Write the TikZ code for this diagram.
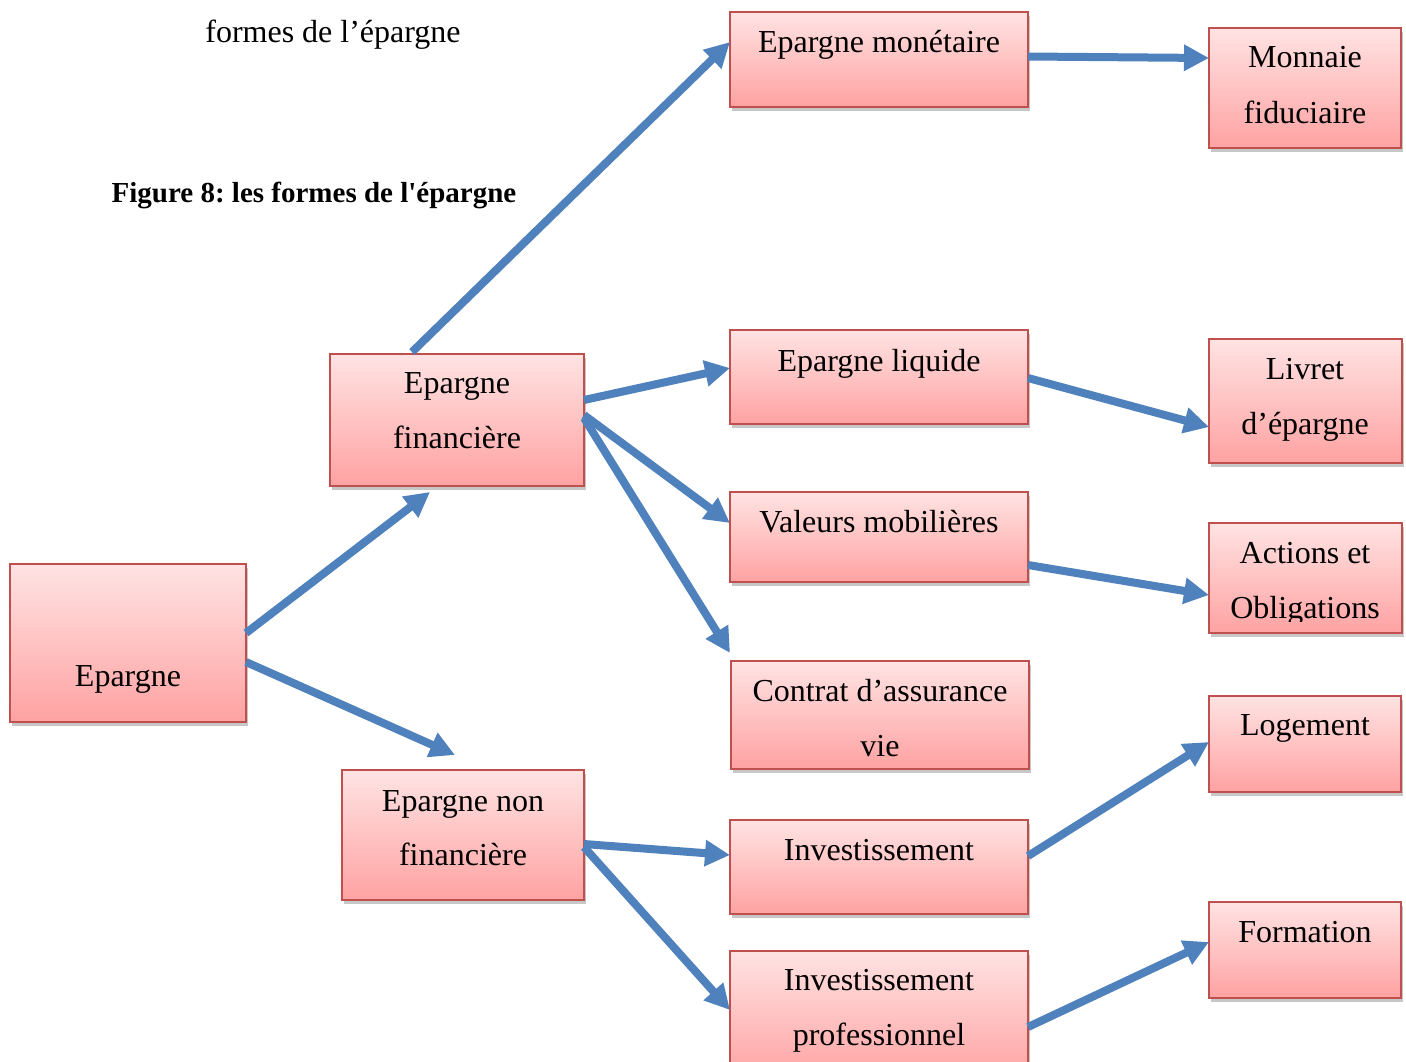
\documentclass[tikz,border=0pt]{standalone}
\usepackage{fontspec}
\setmainfont{Liberation Serif}
\usetikzlibrary{arrows.meta,calc}
\definecolor{boxtop}{HTML}{FFE3E3}
\definecolor{boxbot}{HTML}{FFA2A2}
\definecolor{boxline}{HTML}{C0504D}
\definecolor{arrblue}{HTML}{4F81BD}
\newcommand\bx[5]{%
  \fill[black,opacity=0.22] ({#2-#4/2+2},{#3-#5/2+4}) rectangle ++(#4,#5);
  \node[box, minimum width=#4*0.5pt, minimum height=#5*0.5pt] (#1) at (#2,#3) {};}
\frenchspacing
\begin{document}
\begin{tikzpicture}[x=0.5pt,y=-0.5pt,
  box/.style={rectangle, draw=boxline, line width=1pt, top color=boxtop, bottom color=boxbot, inner sep=0pt, outer sep=0pt},
  txt/.style={font=\fontsize{16}{20}\selectfont, anchor=base, inner sep=0pt},
  captxt/.style={font=\fontsize{14.5}{18}\selectfont\bfseries, anchor=base, inner sep=0pt},
  arr/.style={draw=arrblue, line width=4pt, -{Triangle[length=12.5pt,width=12.5pt]}}]
\useasboundingbox (0,0) rectangle (1406,1061);
\clip (0,0) rectangle (1406,1061);
\fill[white] (0,0) rectangle (1406,1061);

% titles
\node[txt] (title) at (333,42) {formes de l’épargne};
\node[captxt] (caption) at (314,202) {Figure 8: les formes de l\textquotesingle épargne};

% boxes
\bx{ep}{128}{643}{236}{158}
\bx{ef}{457}{420}{254}{132}
\bx{enf}{463}{835}{242}{130}
\bx{em}{879}{59.5}{298}{95}
\bx{el}{879}{377}{298}{94}
\bx{vm}{879}{537}{298}{90}
\bx{ca}{880}{715}{298}{108}
\bx{inv}{879}{867}{298}{94}
\bx{ip}{879}{1015.5}{298}{129}
\bx{mf}{1305}{88}{192}{120}
\bx{le}{1305.5}{401}{193}{124}
\bx{ao}{1305.5}{578}{193}{110}
\bx{lo}{1305}{744}{192}{96}
\bx{fo}{1305}{950}{192}{96}

% texts
\node[txt] (ep-t) at (128,686) {Epargne};
\node[txt] (ef-t1) at (457,393) {Epargne};
\node[txt] (ef-t2) at (457,448) {financière};
\node[txt] (enf-t1) at (463,811) {Epargne non};
\node[txt] (enf-t2) at (463,865) {financière};
\node[txt] (em-t) at (879,52) {Epargne monétaire};
\node[txt] (el-t) at (879,371) {Epargne liquide};
\node[txt] (vm-t) at (879,532) {Valeurs mobilières};
\node[txt] (ca-t1) at (880,701) {Contrat d’assurance};
\node[txt] (ca-t2) at (880,756) {vie};
\node[txt] (inv-t) at (879,860) {Investissement};
\node[txt] (ip-t1) at (879,990) {Investissement};
\node[txt] (ip-t2) at (879,1045) {professionnel};
\node[txt] (mf-t1) at (1305,67) {Monnaie};
\node[txt] (mf-t2) at (1305,123) {fiduciaire};
\node[txt] (le-t1) at (1305,379) {Livret};
\node[txt] (le-t2) at (1305,434) {d’épargne};
\node[txt] (ao-t1) at (1305,563) {Actions et};
\begin{scope}
\clip (1209,523) rectangle (1402,621);
\node[txt] (ao-t2) at (1305,618) {Obligations};
\end{scope}
\node[txt] (lo-t) at (1305,735) {Logement};
\node[txt] (fo-t) at (1305,942) {Formation};

% arrows
\draw[arr] ($(ep.east)+(0,-10)$) -- ($(ef.south)+(-27,6)$);
\draw[arr] ($(ep.east)+(0,19)$) -- ($(enf.north)+(-8,-15)$);
\draw[arr] ($(ef.north)+(-45,-2)$) -- ($(em.west)+(0,-17.5)$);
\draw[arr] ($(ef.east)+(0,-20)$) -- ($(el.west)+(0,-9)$);
\draw[arr] ($(ef.east)+(0,-5)$) -- ($(vm.west)+(0,-14)$);
\draw[arr] ($(ef.east)+(0,-2)$) -- ($(ca.west)+(-1,-62)$);
\draw[arr] ($(enf.east)+(0,9)$) -- ($(inv.west)+(0,-12)$);
\draw[arr] ($(enf.east)+(0,12)$) -- ($(ip.north west)+(0,59)$);
\draw[arr] ($(em.east)+(0,-3)$) -- ($(mf.west)+(0,-30)$);
\draw[arr] ($(el.east)+(0,1)$) -- ($(le.west)+(0,26)$);
\draw[arr] ($(vm.east)+(0,28)$) -- ($(ao.west)+(0,17)$);
\draw[arr] ($(inv.east)+(0,-11)$) -- ($(lo.west)+(0,-2)$);
\draw[arr] ($(ip.east)+(0,11.5)$) -- ($(fo.west)+(0,-8)$);
\end{tikzpicture}
\end{document}
